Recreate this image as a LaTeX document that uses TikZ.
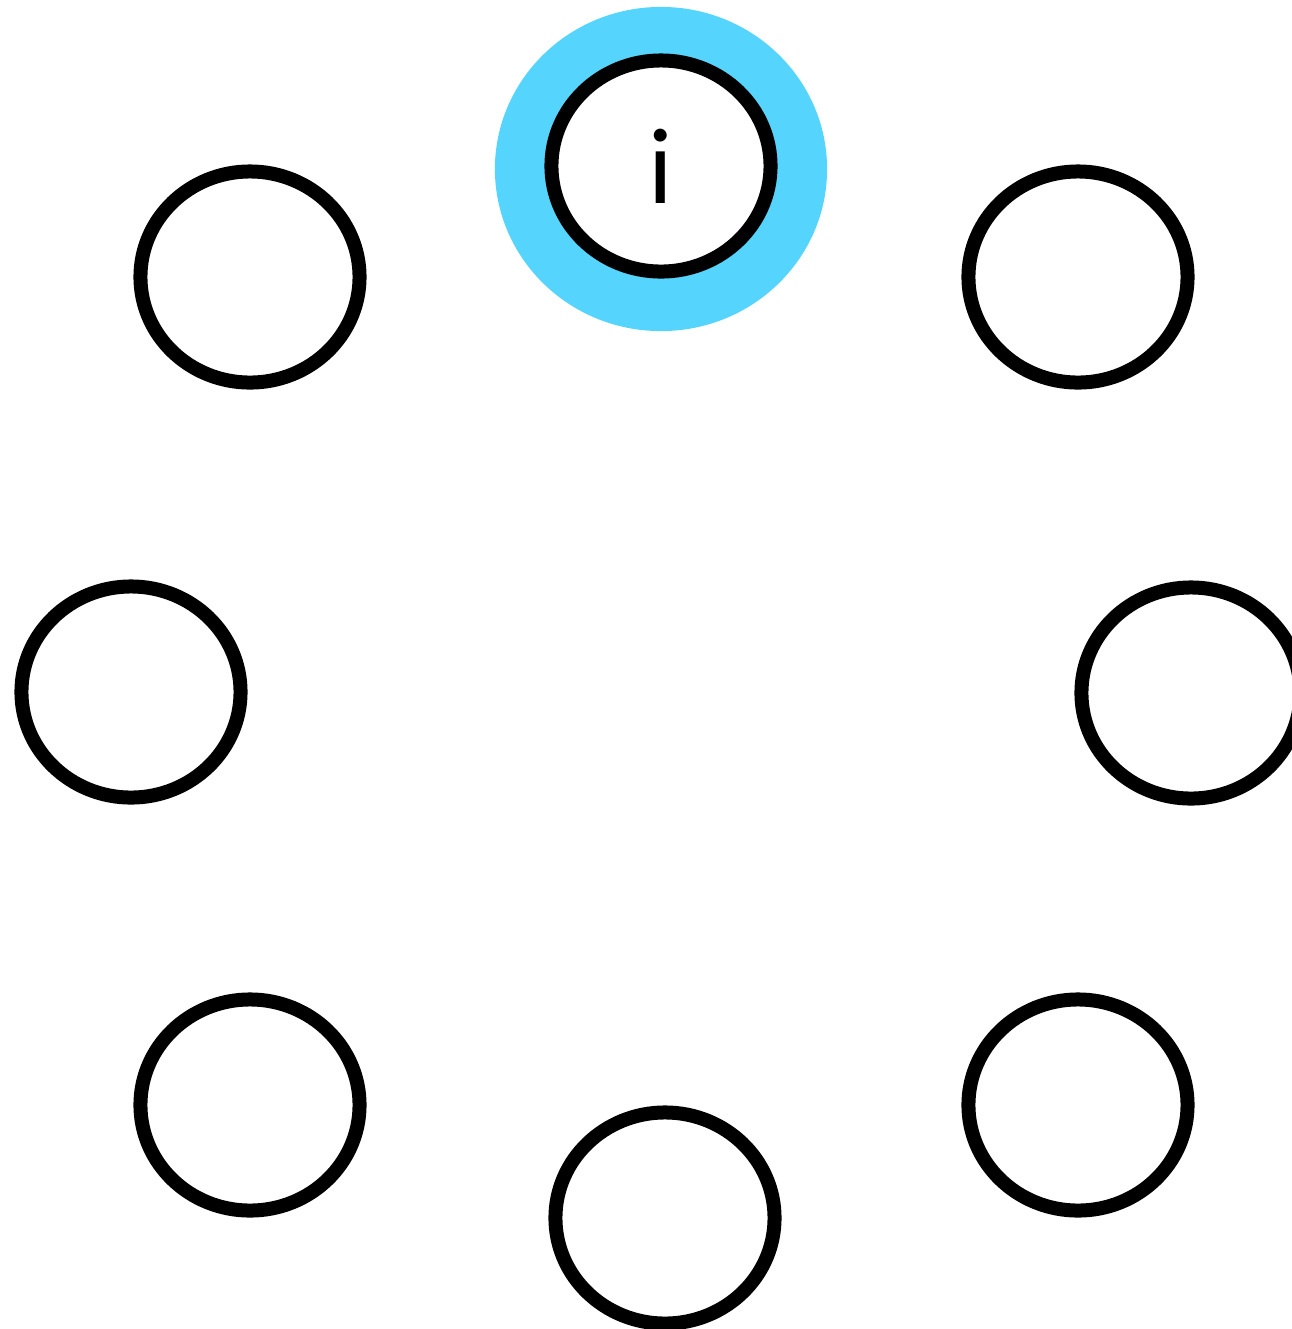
\documentclass[tikz,border=0pt]{standalone}
\usepackage{fontspec}
\setmainfont{Lato}
\usetikzlibrary{shapes.geometric}
\definecolor{glowblue}{HTML}{55D5FD}
\tikzset{
  seat/.style = {ellipse, draw=black, line width=0.14cm, fill=white,
                 minimum width=2.19cm, minimum height=2.11cm, inner sep=0pt,
                 font=\fontsize{29}{35}\selectfont},
  glow/.style = {ellipse, fill=glowblue, minimum width=3.32cm,
                 minimum height=3.24cm, inner sep=0pt},
}
\begin{document}
\begin{tikzpicture}[x=0.01cm, y=-0.01cm]
  \useasboundingbox (0,0) rectangle (1292,1329);
  % highlighted seat
  \node[glow] (halo) at (661,169) {};
  \node[seat] (top) at (661,166) {i};
  % the other seats
  \node[seat] (topleft) at (250,277) {};
  \node[seat] (topright) at (1078,277) {};
  \node[seat] (left) at (131,692) {};
  \node[seat] (right) at (1191,693) {};
  \node[seat] (botleft) at (250,1105) {};
  \node[seat] (botright) at (1078,1105) {};
  \node[seat] (bottom) at (665,1218) {};
\end{tikzpicture}
\end{document}
